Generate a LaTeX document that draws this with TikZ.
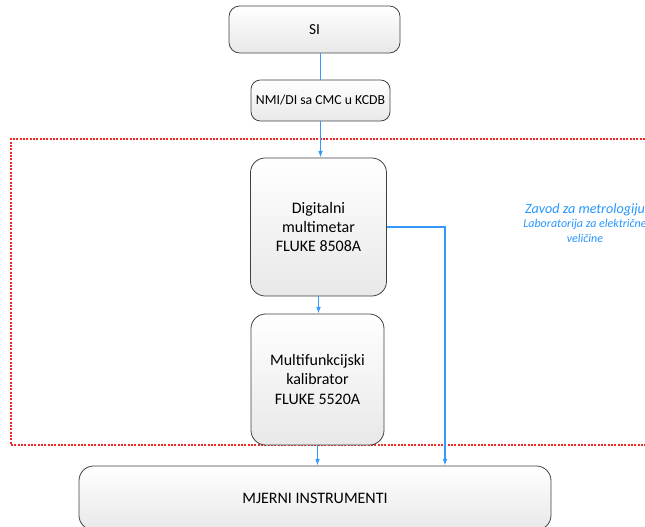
\documentclass[tikz,border=0pt]{standalone}
\usepackage{fontspec}
\setmainfont{Carlito}
\usetikzlibrary{arrows.meta}

\definecolor{flowblue}{RGB}{51,153,255}
\definecolor{zoneblue}{RGB}{40,150,255}
\definecolor{zonered}{RGB}{240,40,40}
\tikzset{
  blok/.style={draw=black!75, line width=0.6pt, rounded corners=8pt, top color=white, bottom color=black!9, align=center, font=\fontsize{12}{14.3}\selectfont, inner sep=2pt},
  tok/.style={color=flowblue, line width=0.85pt},
  tokarrow/.style={tok, -{Latex[length=5pt,width=3.5pt]}},
  zona/.style={color=zonered, line width=0.9pt, dash pattern={on 1.5pt off 1pt}}
}

\begin{document}
\begin{tikzpicture}[x=0.75pt,y=0.75pt,yscale=-1,xscale=1]
        \useasboundingbox (0,0) rectangle (645,527);

        %Shape: Rectangle [zavod zone]
        \draw [zona] (645,139) -- (11,139) -- (11,445) -- (645,445) ;

        % Text Node
        \node [blok, font=\fontsize{11.5}{14}\selectfont, minimum width=128.25pt, minimum height=35.25pt] (si) at (314.5,29.5) {SI};
        % Text Node
        \node [blok, font=\fontsize{10.3}{13}\selectfont, rounded corners=7pt, minimum width=104.25pt, minimum height=30.75pt] (nmi) at (320.5,100.5) {NMI/DI sa CMC u KCDB};
        % Text Node
        \node [blok, rounded corners=11pt, minimum width=102pt, minimum height=103.5pt] (dmm) at (318.5,227) {Digitalni\\multimetar\\FLUKE 8508A};
        % Text Node
        \node [blok, rounded corners=11pt, minimum width=99.75pt, minimum height=98.25pt] (kal) at (317.5,379.5) {Multifunkcijski\\kalibrator\\FLUKE 5520A};
        % Text Node
        \node [blok, rounded corners=11pt, minimum width=354pt, minimum height=48pt] (mi) at (315,498) {MJERNI INSTRUMENTI};

        % Text Node
        \node [text=zoneblue, align=center, font=\itshape, inner sep=0.75pt] (lab) at (585,223)
          {{\fontsize{10.6}{11}\selectfont Zavod za metrologiju}\\[-1.5pt]{\fontsize{9}{10}\selectfont Laboratorija za električne}\\[-0.5pt]{\fontsize{9}{10}\selectfont veličine}};

        %Straight Lines
        \coordinate (spust) at (445,0);
        \draw [tok] (nmi.north |- si.south) -- (nmi.north) ;
        \draw [tokarrow] (nmi.south) -- (nmi.south |- dmm.north) ;
        \draw [tokarrow] (dmm.south) -- (dmm.south |- kal.north) ;
        \draw [tokarrow] (kal.south) -- (kal.south |- mi.north) ;
        \draw [tokarrow] (dmm.east) -| (spust |- mi.north) ;

\end{tikzpicture}
\end{document}
